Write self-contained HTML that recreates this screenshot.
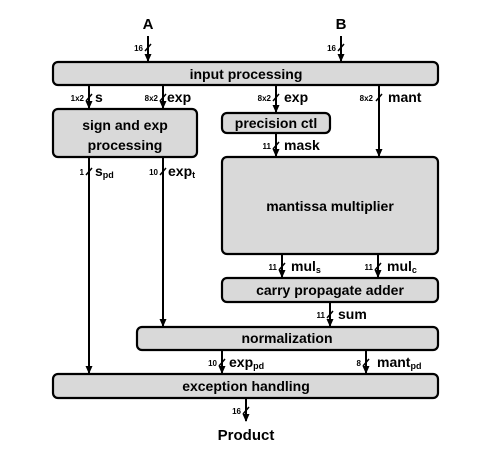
<!DOCTYPE html>
<html><head><style>body{margin:0;background:#fff}svg{display:block}</style></head><body>
<svg width="496" height="451" viewBox="0 0 496 451" xmlns="http://www.w3.org/2000/svg" font-family="Liberation Sans, Arial, sans-serif" font-weight="bold">
<defs><marker id="a" markerWidth="9" markerHeight="9" refX="7" refY="4.5" orient="auto" markerUnits="userSpaceOnUse"><path d="M0,1 L8,4.5 L0,8 Z" fill="#000"/></marker></defs>
<g fill="#d9d9d9" stroke="#000" stroke-width="2.2">
<rect x="53" y="62" width="385" height="23" rx="5"/>
<rect x="53" y="109" width="144" height="48" rx="5"/>
<rect x="222" y="113" width="108" height="20" rx="5"/>
<rect x="222" y="157" width="216" height="97" rx="5"/>
<rect x="222" y="278" width="216" height="24" rx="5"/>
<rect x="137" y="327" width="301" height="23" rx="5"/>
<rect x="53" y="374" width="385" height="24" rx="5"/>
</g>
<g stroke="#000" stroke-width="2" marker-end="url(#a)">
<line x1="148" y1="36" x2="148" y2="61"/>
<line x1="341" y1="36" x2="341" y2="61"/>
<line x1="89" y1="86" x2="89" y2="108"/>
<line x1="163" y1="86" x2="163" y2="108"/>
<line x1="276" y1="86" x2="276" y2="112"/>
<line x1="379" y1="86" x2="379" y2="156"/>
<line x1="276" y1="134" x2="276" y2="156"/>
<line x1="89" y1="158" x2="89" y2="373"/>
<line x1="163" y1="158" x2="163" y2="326"/>
<line x1="282" y1="255" x2="282" y2="277"/>
<line x1="378" y1="255" x2="378" y2="277"/>
<line x1="330" y1="303" x2="330" y2="326"/>
<line x1="222" y1="351" x2="222" y2="373"/>
<line x1="366" y1="351" x2="366" y2="373"/>
<line x1="246" y1="399" x2="246" y2="421"/>
</g>
<g stroke="#000" stroke-width="1.5">
<line x1="145" y1="51" x2="151" y2="44"/>
<line x1="338" y1="51" x2="344" y2="44"/>
<line x1="86" y1="101" x2="92" y2="94"/>
<line x1="160" y1="101" x2="166" y2="94"/>
<line x1="273" y1="101" x2="279" y2="94"/>
<line x1="376" y1="101" x2="382" y2="94"/>
<line x1="273" y1="149" x2="279" y2="142"/>
<line x1="86" y1="175" x2="92" y2="168"/>
<line x1="160" y1="175" x2="166" y2="168"/>
<line x1="279" y1="270" x2="285" y2="263"/>
<line x1="375" y1="270" x2="381" y2="263"/>
<line x1="327" y1="318" x2="333" y2="311"/>
<line x1="219" y1="366" x2="225" y2="359"/>
<line x1="363" y1="366" x2="369" y2="359"/>
<line x1="243" y1="414" x2="249" y2="407"/>
</g>
<g font-size="14" text-anchor="middle">
<text x="148" y="29" font-size="15">A</text>
<text x="341" y="29" font-size="15">B</text>
<text x="246" y="79">input processing</text>
<text x="125" y="130">sign and exp</text>
<text x="125" y="150">processing</text>
<text x="276" y="128">precision ctl</text>
<text x="330" y="211">mantissa multiplier</text>
<text x="330" y="295">carry propagate adder</text>
<text x="287" y="343">normalization</text>
<text x="246" y="391">exception handling</text>
<text x="246" y="440" font-size="15">Product</text>
</g>
<g font-size="8" text-anchor="end">
<text x="143" y="51">16</text>
<text x="336" y="51">16</text>
<text x="84" y="101">1x2</text>
<text x="158" y="101">8x2</text>
<text x="271" y="101">8x2</text>
<text x="373" y="101">8x2</text>
<text x="271" y="149">11</text>
<text x="84" y="175">1</text>
<text x="158" y="175">10</text>
<text x="277" y="270">11</text>
<text x="373" y="270">11</text>
<text x="325" y="318">11</text>
<text x="217" y="366">10</text>
<text x="361" y="366">8</text>
<text x="241" y="414">16</text>
</g>
<g font-size="14">
<text x="95" y="102">s</text>
<text x="167" y="102">exp</text>
<text x="284" y="102">exp</text>
<text x="388" y="102">mant</text>
<text x="284" y="150">mask</text>
<text x="95" y="176">s<tspan font-size="9" dy="2">pd</tspan></text>
<text x="168" y="176">exp<tspan font-size="9" dy="2">t</tspan></text>
<text x="291" y="271">mul<tspan font-size="9" dy="2">s</tspan></text>
<text x="387" y="271">mul<tspan font-size="9" dy="2">c</tspan></text>
<text x="338" y="319">sum</text>
<text x="229" y="367">exp<tspan font-size="9" dy="2">pd</tspan></text>
<text x="377" y="367">mant<tspan font-size="9" dy="2">pd</tspan></text>
</g>
</svg>
</body></html>
